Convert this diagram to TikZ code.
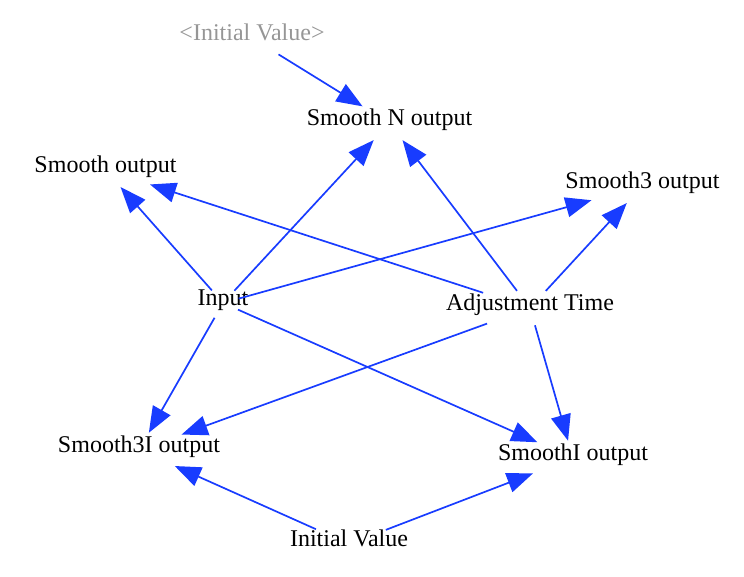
\documentclass[tikz,border=0pt]{standalone}
\usepackage{fontspec}
\setmainfont{Liberation Serif}
\usetikzlibrary{arrows.meta,shapes.geometric}
\definecolor{edgeblue}{RGB}{24,60,255}
\definecolor{ghost}{RGB}{150,150,150}
\begin{document}
\begin{tikzpicture}[x=1pt,y=-1pt,
  var/.style={ellipse,inner xsep=-14pt,inner ysep=7.5pt,text height=0.7em,text depth=0.22em,
    font=\fontsize{24}{28}\selectfont},
  shadow var/.style={var,text=ghost},
  link/.style={draw=edgeblue,line width=1.7pt,-{Triangle[length=26pt,width=20pt]}}]
  \useasboundingbox (0,0) rectangle (744,576);
  % variables
  \node[shadow var] (ivs) at (252,38) {<Initial Value>};
  \node[var] (sn)  at (389.5,123) {Smooth N output};
  \node[var] (so)  at (105.5,170) {Smooth output};
  \node[var] (s3)  at (642.5,186) {Smooth3 output};
  \node[var] (in)  at (223,303) {Input};
  \node[var] (adj) at (530,308) {Adjustment Time};
  \node[var] (s3i) at (139,450) {Smooth3I output};
  \node[var] (si)  at (573,458) {SmoothI output};
  \node[var] (iv)  at (349,544) {Initial Value};
  % causal links
  \draw[link] (ivs) -- (sn);
  \draw[link] (in) -- (sn);
  \draw[link] (adj) -- (sn);
  \draw[link] (in) -- (so);
  \draw[link] (adj) -- (so);
  \draw[link] (in) -- (s3);
  \draw[link] (adj) -- (s3);
  \draw[link] (in) -- (s3i);
  \draw[link] (adj) -- (s3i);
  \draw[link] (in) -- (si);
  \draw[link] (adj) -- (si);
  \draw[link] (iv) -- (s3i);
  \draw[link] (iv) -- (si);
\end{tikzpicture}
\end{document}
